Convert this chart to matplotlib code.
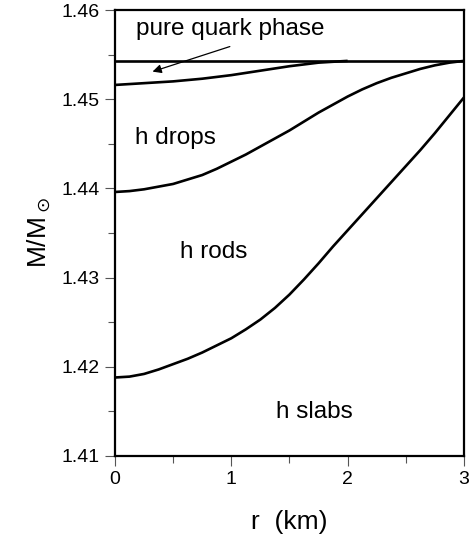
import matplotlib
matplotlib.use("Agg")
import matplotlib.pyplot as plt

plt.rcParams['font.family'] = ['Liberation Sans', 'DejaVu Sans']

# boundary curves
r_quark = [0.0, 3.0]
m_quark = [1.4543, 1.4543]

r_drops = [0.0, 0.25, 0.5, 0.75, 1.0, 1.25, 1.5, 1.75, 2.0]
m_drops = [1.4516, 1.4518, 1.4520, 1.4523, 1.4527, 1.4532, 1.4537, 1.4541, 1.4543]

r_rods = [0.0, 0.125, 0.25, 0.375, 0.5, 0.625, 0.75, 0.875, 1.0, 1.125, 1.25, 1.375, 1.5,
          1.625, 1.75, 1.875, 2.0, 2.125, 2.25, 2.375, 2.5, 2.625, 2.75, 2.875, 3.0]
m_rods = [1.4396, 1.4397, 1.4399, 1.4402, 1.4405, 1.4410, 1.4415, 1.4422, 1.4430, 1.4438,
          1.4447, 1.4456, 1.4465, 1.4475, 1.4485, 1.4494, 1.4503, 1.4511, 1.4518, 1.4524,
          1.4529, 1.4534, 1.4538, 1.4541, 1.4543]

r_slabs = [0.0, 0.125, 0.25, 0.375, 0.5, 0.625, 0.75, 0.875, 1.0, 1.125, 1.25, 1.375, 1.5,
           1.625, 1.75, 1.875, 2.0, 2.125, 2.25, 2.375, 2.5, 2.625, 2.75, 2.875, 3.0]
m_slabs = [1.4188, 1.4189, 1.4192, 1.4197, 1.4203, 1.4209, 1.4216, 1.4224, 1.4232, 1.4242,
           1.4253, 1.4266, 1.4281, 1.4298, 1.4316, 1.4335, 1.4353, 1.4371, 1.4389, 1.4407,
           1.4425, 1.4443, 1.4462, 1.4482, 1.4502]

fig = plt.figure(figsize=(4.72, 5.39), dpi=100)
ax = fig.add_axes([0.2436, 0.154, 0.7394, 0.8274])

for r, m in [(r_quark, m_quark), (r_drops, m_drops), (r_rods, m_rods), (r_slabs, m_slabs)]:
    ax.plot(r, m, color='black', lw=1.9, solid_capstyle='butt', solid_joinstyle='round')

ax.set_xlim(0, 3)
ax.set_ylim(1.41, 1.46)
ax.set_xticks([0, 1, 2, 3])
ax.set_xticks([0.5, 1.5, 2.5], minor=True)
ax.set_yticks([1.41, 1.42, 1.43, 1.44, 1.45, 1.46])
ax.set_yticks([1.415, 1.425, 1.435, 1.445, 1.455], minor=True)
ax.set_yticklabels(['1.41', '1.42', '1.43', '1.44', '1.45', '1.46'])
ax.tick_params(which='both', direction='out', top=False, right=False, labelsize=14, width=0.8, color='#555555')
ax.tick_params(which='major', length=7, pad=4)
ax.tick_params(which='minor', length=5)
for s in ax.spines.values():
    s.set_linewidth(1.6)

ax.set_xlabel('r  (km)', fontsize=19, labelpad=16)
ax.set_ylabel(r'M/M$_\odot$', fontsize=19, labelpad=6)

ax.text(0.18, 1.4579, 'pure quark phase', fontsize=17.5, va='center')
ax.annotate('', xy=(0.30, 1.4530), xytext=(1.01, 1.4560),
            arrowprops=dict(arrowstyle='-|>', color='black', lw=0.9, mutation_scale=13))
ax.text(0.17, 1.4457, 'h drops', fontsize=17.5, va='center')
ax.text(0.56, 1.4329, 'h rods', fontsize=17.5, va='center')
ax.text(1.38, 1.4149, 'h slabs', fontsize=17.5, va='center')

fig.savefig('out.png', dpi=100)
